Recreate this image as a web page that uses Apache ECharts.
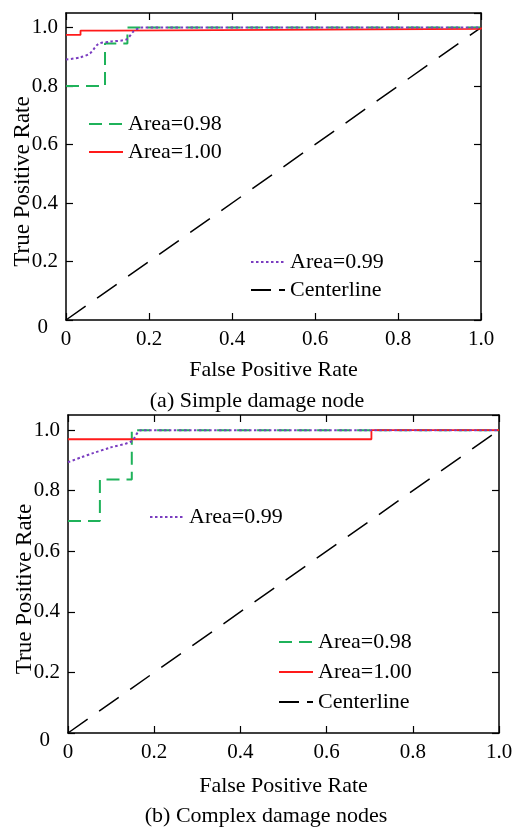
<!DOCTYPE html>
<html>
<head>
<meta charset="utf-8">
<script src="https://cdn.jsdelivr.net/npm/echarts@6/dist/echarts.min.js"></script>
<style>
  html, body { margin: 0; padding: 0; background: #fff; }
  #main { width: 516px; height: 828px; }
</style>
</head>
<body>
<div id="main"></div>
<script>
// (a) simple damage node
const topGreenX = [0, 0.094, 0.094, 0.148, 0.148, 1];
const topGreenY = [0.80, 0.80, 0.946, 0.946, 1.0, 1.0];
const topRedX = [0, 0.035, 0.035, 0.108, 0.108, 1, 1];
const topRedY = [0.975, 0.975, 0.99, 0.99, 0.996, 0.996, 1.0];
const topPurpleX = [0, 0.034, 0.058, 0.078, 0.106, 0.146, 0.162, 0.182, 1];
const topPurpleY = [0.891, 0.898, 0.912, 0.944, 0.952, 0.960, 0.986, 1.0, 1.0];

// (b) complex damage nodes
const botGreenX = [0, 0.074, 0.074, 0.148, 0.148, 1];
const botGreenY = [0.70, 0.70, 0.837, 0.837, 1.0, 1.0];
const botRedX = [0, 0.704, 0.704, 1];
const botRedY = [0.97, 0.97, 1.0, 1.0];
const botPurpleX = [0, 0.03, 0.058, 0.097, 0.147, 0.17, 1];
const botPurpleY = [0.894, 0.91, 0.924, 0.942, 0.963, 1.0, 1.0];

const centerX = [0, 1];
const centerY = [0, 1];

const names = ['Area=0.98', 'Area=1.00', 'Area=0.99', 'Centerline'];
const captions = ['(a) Simple damage node', '(b) Complex damage nodes'];

const FONT = '"Liberation Serif", "Times New Roman", serif';
const GREEN = '#1fb25a';
const RED = '#ff1a1a';
const PURPLE = '#7a3cc0';

function pairs(xs, ys) {
  return xs.map((x, i) => [x, ys[i]]);
}

const styles = {
  'Area=0.98': { color: GREEN, width: 2, type: [13, 7] },
  'Area=1.00': { color: RED, width: 1.8, type: 'solid' },
  'Area=0.99': { color: PURPLE, width: 2, type: [2.5, 2.5] },
  'Centerline': { color: '#000', width: 1.5, type: [24, 14] }
};

function line(name, xs, ys, gi) {
  return {
    name: name,
    type: 'line',
    xAxisIndex: gi * 2,
    yAxisIndex: gi * 2,
    data: pairs(xs, ys),
    symbol: 'none',
    showSymbol: false,
    smooth: name === 'Area=0.99' ? 0.3 : false,
    silent: true,
    animation: false,
    lineStyle: styles[name],
    itemStyle: { color: styles[name].color },
    z: name === 'Centerline' ? 1 : (name === 'Area=0.99' ? 4 : 3)
  };
}

function tickFmt(v) {
  return v === 0 ? '{z|0}' : v.toFixed(1);
}

function mainX(gi, gap) {
  return {
    type: 'value', gridIndex: gi, min: 0, max: 1, interval: 0.2,
    position: 'bottom',
    name: 'False Positive Rate', nameLocation: 'middle', nameGap: gap,
    nameMoveOverlap: false,
    nameTextStyle: { fontFamily: FONT, fontSize: 22, color: '#000' },
    axisLine: { onZero: false, lineStyle: { color: '#000', width: 1.5 } },
    axisTick: { inside: true, length: 7, lineStyle: { color: '#000', width: 1.2 } },
    axisLabel: { fontFamily: FONT, fontSize: 21, color: '#000', margin: 9,
      formatter: v => v === 0 ? '0' : v.toFixed(1) },
    splitLine: { show: false }
  };
}
function sideX(gi) {
  return {
    type: 'value', gridIndex: gi, min: 0, max: 1, interval: 0.2, position: 'top',
    axisLine: { onZero: false, lineStyle: { color: '#000', width: 1.5 } },
    axisTick: { inside: true, length: 7, lineStyle: { color: '#000', width: 1.2 } },
    axisLabel: { show: false }, splitLine: { show: false }
  };
}
function mainY(gi) {
  return {
    type: 'value', gridIndex: gi, min: 0, max: 1.05, interval: 0.2,
    position: 'left',
    name: 'True Positive Rate', nameLocation: 'middle', nameGap: 32,
    nameMoveOverlap: false,
    nameTextStyle: { fontFamily: FONT, fontSize: 23, color: '#000', padding: [0, 30, 0, 0] },
    axisLine: { onZero: false, lineStyle: { color: '#000', width: 1.5 } },
    axisTick: { inside: true, length: 7, lineStyle: { color: '#000', width: 1.2 } },
    axisLabel: { fontFamily: FONT, fontSize: 21, color: '#000', margin: 8,
      showMaxLabel: false, formatter: tickFmt,
      rich: { z: { fontFamily: FONT, fontSize: 21, color: '#000', padding: [14, 10, 0, 0] } } },
    splitLine: { show: false }
  };
}
function sideY(gi) {
  return {
    type: 'value', gridIndex: gi, min: 0, max: 1.05, interval: 0.2, position: 'right',
    axisLine: { onZero: false, lineStyle: { color: '#000', width: 1.5 } },
    axisTick: { inside: true, length: 7, lineStyle: { color: '#000', width: 1.2 } },
    axisLabel: { show: false }, splitLine: { show: false }
  };
}

function legend(items, left, top, gap) {
  return {
    orient: 'vertical', left: left, top: top, itemGap: gap, padding: 0,
    itemWidth: 34, itemHeight: 14, selectedMode: false,
    itemStyle: { opacity: 0 },
    textStyle: { fontFamily: FONT, fontSize: 22, color: '#000', lineHeight: 22 },
    data: items.map(n => n === 'Centerline'
      ? { name: n, lineStyle: { type: [20, 8], width: 2 } }
      : { name: n })
  };
}

const chart = echarts.init(document.getElementById('main'));
chart.setOption({
  backgroundColor: '#fff',
  animation: false,
  title: [
    { text: captions[0], left: 252, top: 385, textAlign: 'center',
      textStyle: { fontFamily: FONT, fontSize: 22, fontWeight: 'normal', color: '#000' } },
    { text: captions[1], left: 261, top: 800, textAlign: 'center',
      textStyle: { fontFamily: FONT, fontSize: 22, fontWeight: 'normal', color: '#000' } }
  ],
  grid: [
    { left: 66, top: 13, width: 415, height: 307, outerBoundsMode: 'none' },
    { left: 68, top: 415, width: 431, height: 318, outerBoundsMode: 'none' }
  ],
  xAxis: [mainX(0, 39), sideX(0), mainX(1, 42), sideX(1)],
  yAxis: [mainY(0), sideY(0), mainY(1), sideY(1)],
  legend: [
    legend([names[0], names[1]], 88, 113, 6),
    legend([names[2], names[3]], 250, 251, 6),
    legend([names[2]], 149, 506, 6),
    legend([names[0], names[1], names[3]], 278, 631, 8)
  ],
  series: [
    line(names[3], centerX, centerY, 0),
    line(names[0], topGreenX, topGreenY, 0),
    line(names[1], topRedX, topRedY, 0),
    line(names[2], topPurpleX, topPurpleY, 0),
    line(names[3], centerX, centerY, 1),
    line(names[0], botGreenX, botGreenY, 1),
    line(names[1], botRedX, botRedY, 1),
    line(names[2], botPurpleX, botPurpleY, 1)
  ]
});
</script>
</body>
</html>
